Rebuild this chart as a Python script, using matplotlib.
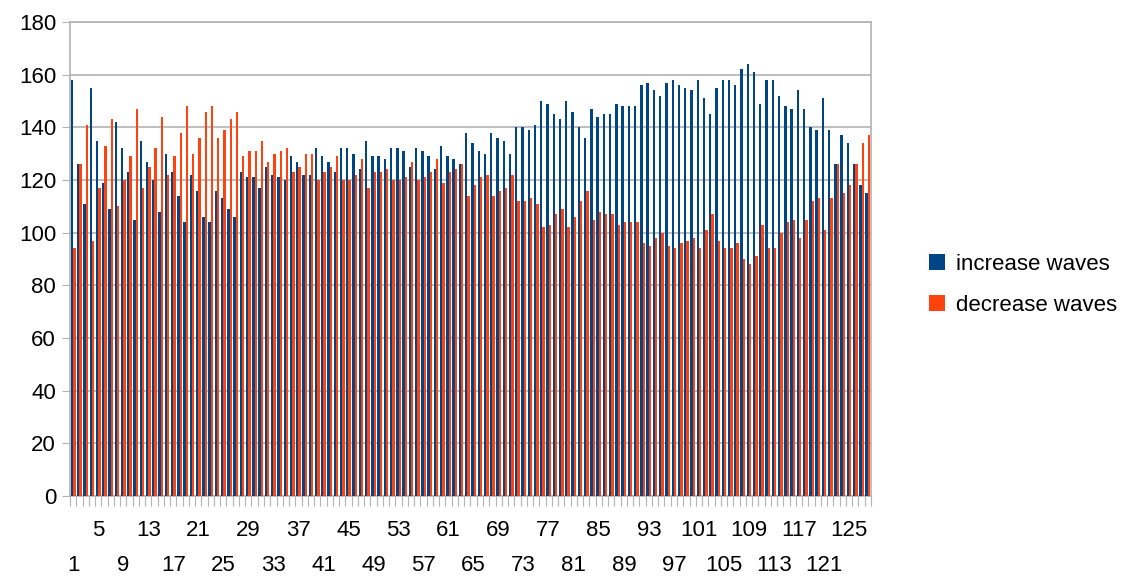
import numpy as np
import matplotlib
matplotlib.use("Agg")
import matplotlib.pyplot as plt
from matplotlib.transforms import blended_transform_factory

plt.rcParams['font.family'] = ['Liberation Sans', 'DejaVu Sans']

# data (128 categories)
increase = [158, 126, 111, 155, 135, 119, 109, 142, 132, 123, 105, 135, 127, 120, 108, 130,
            123, 114, 104, 122, 116, 106, 104, 116, 113, 109, 106, 123, 121, 121, 117, 125,
            122, 121, 120, 129, 127, 122, 122, 132, 129, 127, 123, 132, 132, 130, 124, 135,
            129, 129, 128, 132, 132, 131, 125, 132, 131, 129, 124, 133, 129, 128, 126, 138,
            134, 131, 130, 138, 136, 135, 130, 140, 140, 139, 141, 150, 149, 145, 143, 150,
            146, 140, 136, 147, 144, 145, 145, 149, 148, 148, 148, 156, 157, 154, 152, 157,
            158, 156, 155, 154, 158, 151, 145, 155, 158, 158, 156, 162, 164, 161, 149, 158,
            158, 152, 148, 147, 154, 147, 140, 139, 151, 139, 126, 137, 134, 126, 118, 115]
decrease = [94, 126, 141, 97, 117, 133, 143, 110, 120, 129, 147, 117, 125, 132, 144, 122,
            129, 138, 148, 130, 136, 146, 148, 136, 139, 143, 146, 129, 131, 131, 135, 127,
            130, 131, 132, 123, 125, 130, 130, 120, 123, 125, 129, 120, 120, 122, 128, 117,
            123, 123, 124, 120, 120, 121, 127, 120, 121, 123, 128, 119, 123, 124, 126, 114,
            118, 121, 122, 114, 116, 117, 122, 112, 112, 113, 111, 102, 103, 107, 109, 102,
            106, 112, 116, 105, 108, 107, 107, 103, 104, 104, 104, 96, 95, 98, 100, 95,
            94, 96, 97, 98, 94, 101, 107, 97, 94, 94, 96, 90, 88, 91, 103, 94,
            94, 100, 104, 105, 98, 105, 112, 113, 101, 113, 126, 115, 118, 126, 134, 137]
categories = list(range(1, len(increase) + 1))
yticks = list(range(0, 181, 20))

blue = "#004586"
orange = "#ff420e"
grid = "#b3b3b3"

fig = plt.figure(figsize=(11.43, 5.76), dpi=100)
ax = fig.add_axes([70 / 1143, 1 - 496 / 576, 801 / 1143, 474 / 576])

x = np.arange(len(categories))
w = 0.38
ax.bar(x - w / 2, increase, width=w, color=blue, label="increase waves", zorder=3)
ax.bar(x + w / 2, decrease, width=w, color=orange, label="decrease waves", zorder=3)

ax.set_xlim(-0.5, len(categories) - 0.5)
ax.set_ylim(0, 180)
ax.set_yticks(yticks)
ax.yaxis.grid(True, color=grid, linewidth=1.2, zorder=0)
ax.tick_params(axis="y", length=6, color=grid, labelsize=16, pad=4)

# small tick marks at category boundaries, labels staggered in two rows
ax.set_xticks(np.arange(len(categories) + 1) - 0.5)
ax.set_xticklabels([])
ax.tick_params(axis="x", length=7, color=grid)

trans = blended_transform_factory(ax.transData, ax.transAxes)
for i, c in enumerate(categories):
    if (c - 1) % 8 == 0:
        ax.text(i, -0.147, str(c), transform=trans, ha="center", va="center", fontsize=16)
    elif (c - 5) % 8 == 0:
        ax.text(i, -0.073, str(c), transform=trans, ha="center", va="center", fontsize=16)

for s in ax.spines.values():
    s.set_color(grid)
    s.set_linewidth(1.2)

ax.legend(loc="center left", bbox_to_anchor=(1.047, 0.445), frameon=False, fontsize=16,
          handlelength=0.75, handleheight=0.75, handletextpad=0.5, labelspacing=0.9)

fig.savefig("out.png", dpi=100)
